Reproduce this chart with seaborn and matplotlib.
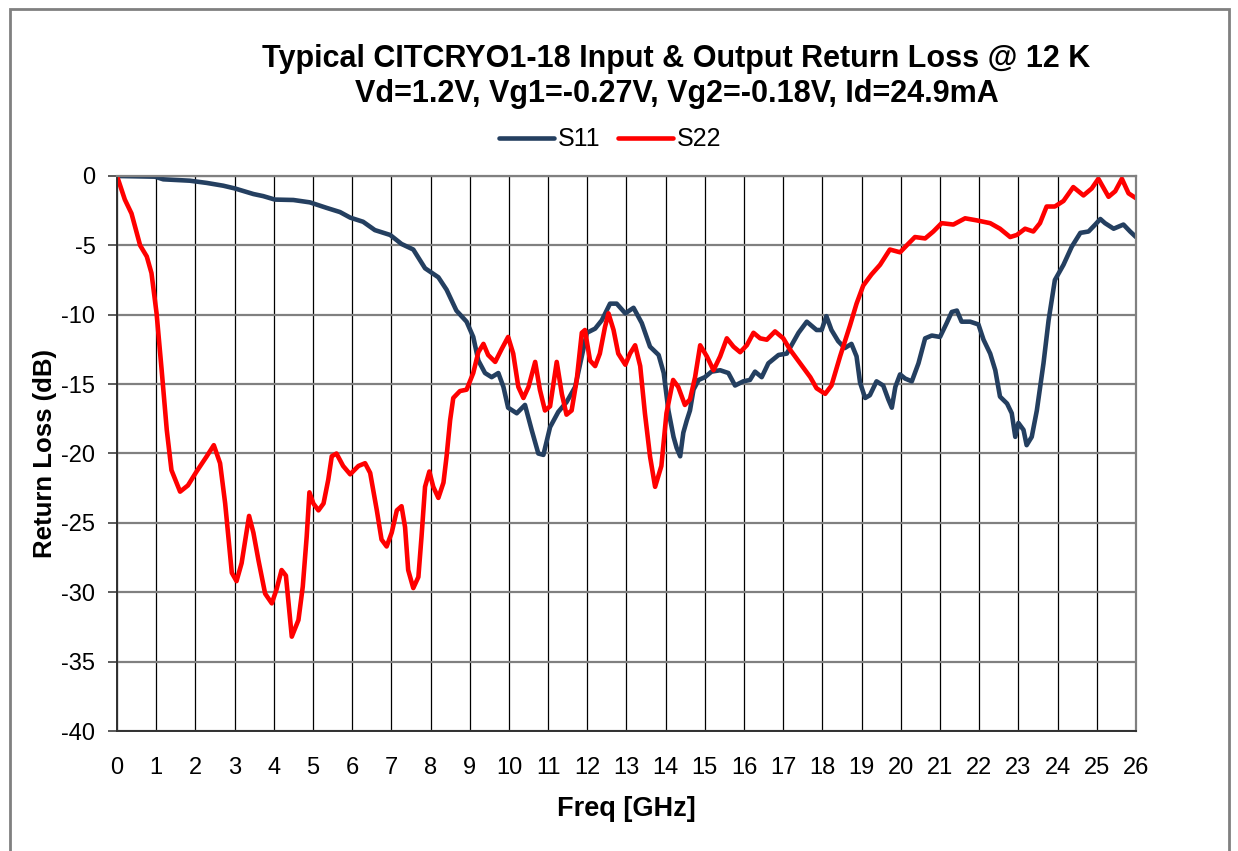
import numpy as np
import pandas as pd
import matplotlib.pyplot as plt
import seaborn as sns
from matplotlib.patches import Rectangle

# S11 readings (freq GHz, dB)
s11_freq = [0.0, 0.97, 1.18, 1.86, 2.29, 2.71, 3.01, 3.48, 3.73, 4.03, 4.5, 4.92, 5.35, 5.69,
            5.95, 6.28, 6.58, 6.97, 7.26, 7.56, 7.86, 8.2, 8.41, 8.66, 8.92, 9.09, 9.22, 9.39,
            9.56, 9.73, 9.86, 9.98, 10.2, 10.41, 10.58, 10.75, 10.88, 11.05, 11.26, 11.47,
            11.69, 11.86, 11.99, 12.2, 12.37, 12.58, 12.75, 12.97, 13.18, 13.39, 13.6, 13.82,
            13.95, 14.07, 14.2, 14.28, 14.37, 14.45, 14.54, 14.62, 14.71, 14.84, 15.0, 15.17,
            15.39, 15.6, 15.77, 15.98, 16.15, 16.28, 16.45, 16.62, 16.88, 17.09, 17.39, 17.6,
            17.85, 17.98, 18.1, 18.23, 18.4, 18.57, 18.74, 18.87, 18.96, 19.09, 19.21, 19.38,
            19.55, 19.68, 19.77, 19.86, 19.98, 20.11, 20.28, 20.45, 20.62, 20.79, 21.0, 21.17,
            21.3, 21.43, 21.55, 21.77, 21.98, 22.11, 22.28, 22.41, 22.53, 22.71, 22.83, 22.92,
            23.0, 23.13, 23.21, 23.34, 23.47, 23.64, 23.77, 23.93, 24.15, 24.36, 24.58, 24.79,
            24.96, 25.09, 25.21, 25.43, 25.68, 25.85, 26.0]
s11_db = [0.0, -0.05, -0.24, -0.34, -0.5, -0.7, -0.9, -1.3, -1.45, -1.7, -1.73, -1.9, -2.3, -2.6,
          -3.0, -3.3, -3.9, -4.25, -4.9, -5.3, -6.65, -7.3, -8.2, -9.7, -10.5, -11.6, -13.3, -14.2,
          -14.5, -14.2, -15.2, -16.7, -17.1, -16.5, -18.3, -20.0, -20.1, -18.1, -17.0, -16.3,
          -15.2, -13.0, -11.3, -11.0, -10.4, -9.2, -9.2, -9.9, -9.5, -10.6, -12.3, -12.9,
          -14.2, -16.9, -18.8, -19.6, -20.2, -18.5, -17.6, -16.9, -15.4, -14.7, -14.5, -14.1,
          -14.0, -14.2, -15.1, -14.8, -14.7, -14.1, -14.5, -13.5, -12.9, -12.8, -11.3, -10.5,
          -11.1, -11.1, -10.1, -11.1, -11.9, -12.4, -12.1, -13.0, -14.9, -16.0, -15.8, -14.8,
          -15.1, -16.1, -16.7, -15.2, -14.3, -14.6, -14.8, -13.5, -11.7, -11.5, -11.6, -10.6,
          -9.8, -9.7, -10.5, -10.5, -10.7, -11.8, -12.8, -14.0, -15.9, -16.4, -17.1, -18.8,
          -17.8, -18.3, -19.4, -18.8, -16.9, -13.5, -10.4, -7.5, -6.4, -5.1, -4.1, -4.0,
          -3.5, -3.1, -3.4, -3.8, -3.5, -4.0, -4.4]

# S22 readings (freq GHz, dB)
s22_freq = [0.0, 0.2, 0.37, 0.59, 0.76, 0.88, 1.01, 1.14, 1.27, 1.39, 1.61, 1.81, 2.03, 2.29,
            2.47, 2.63, 2.76, 2.93, 3.05, 3.18, 3.37, 3.48, 3.61, 3.78, 3.95, 4.07, 4.2, 4.31,
            4.46, 4.63, 4.74, 4.84, 4.91, 5.01, 5.14, 5.27, 5.39, 5.48, 5.6, 5.77, 5.95, 6.16,
            6.33, 6.46, 6.63, 6.75, 6.88, 7.01, 7.14, 7.26, 7.35, 7.43, 7.56, 7.69, 7.77, 7.86,
            7.97, 8.07, 8.2, 8.33, 8.41, 8.5, 8.58, 8.75, 8.92, 9.09, 9.22, 9.35, 9.47, 9.65,
            9.81, 9.98, 10.11, 10.24, 10.37, 10.5, 10.67, 10.79, 10.92, 11.05, 11.22, 11.35,
            11.47, 11.6, 11.73, 11.86, 11.94, 12.07, 12.2, 12.32, 12.45, 12.54, 12.67, 12.79,
            12.97, 13.09, 13.22, 13.35, 13.47, 13.6, 13.73, 13.89, 14.02, 14.19, 14.32, 14.49,
            14.62, 14.75, 14.88, 15.05, 15.22, 15.39, 15.56, 15.73, 15.9, 16.07, 16.24, 16.41,
            16.58, 16.79, 17.0, 17.17, 17.43, 17.69, 17.85, 18.07, 18.23, 18.45, 18.7, 18.87,
            19.04, 19.25, 19.47, 19.72, 19.98, 20.15, 20.36, 20.62, 20.83, 21.04, 21.34, 21.64,
            21.94, 22.28, 22.53, 22.79, 22.96, 23.17, 23.38, 23.55, 23.72, 23.93, 24.15, 24.4,
            24.66, 24.87, 25.04, 25.3, 25.47, 25.64, 25.81, 26.0]
s22_db = [0.0, -1.7, -2.7, -5.0, -5.8, -7.0, -9.9, -14.0, -18.3, -21.2, -22.75, -22.3, -21.3, -20.2,
          -19.4, -20.7, -23.6, -28.6, -29.2, -27.9, -24.5, -25.7, -27.7, -30.1, -30.8, -29.8, -28.4, -28.8,
          -33.2, -32.0, -29.6, -26.0, -22.8, -23.6, -24.1, -23.6, -21.9, -20.2, -20.0, -20.9, -21.5, -20.9,
          -20.7, -21.4, -24.1, -26.2, -26.7, -25.7, -24.1, -23.8, -25.3, -28.4, -29.7, -28.9, -26.0, -22.4,
          -21.3, -22.4, -23.2, -22.1, -20.2, -17.6, -16.0, -15.5, -15.4, -14.2, -12.7, -12.1, -12.9, -13.4,
          -12.5, -11.6, -12.8, -15.2, -16.0, -15.2, -13.4, -15.4, -16.9, -16.6, -13.4, -15.7,
          -17.2, -16.9, -14.7, -11.3, -11.1, -13.3, -13.7, -12.8, -10.9, -9.9, -11.1, -12.8,
          -13.6, -12.8, -12.2, -13.7, -17.1, -20.2, -22.4, -20.9, -17.1, -14.7, -15.2, -16.5,
          -16.1, -14.5, -12.2, -13.0, -14.0, -13.0, -11.7, -12.3, -12.7, -12.2, -11.3, -11.7,
          -11.8, -11.2, -11.7, -12.5, -13.5, -14.5, -15.3, -15.7, -15.1, -13.0, -10.8, -9.2,
          -7.9, -7.1, -6.4, -5.3, -5.5, -5.0, -4.4, -4.5, -4.0, -3.4, -3.5, -3.05,
          -3.2, -3.4, -3.8, -4.4, -4.25, -3.8, -4.0, -3.4, -2.2, -2.2, -1.8, -0.8,
          -1.4, -0.9, -0.2, -1.5, -1.1, -0.2, -1.25, -1.6]

title_1 = "Typical CITCRYO1-18 Input & Output Return Loss @ 12 K"
title_2 = "Vd=1.2V, Vg1=-0.27V, Vg2=-0.18V, Id=24.9mA"

df = pd.concat([
    pd.DataFrame({"Freq": s11_freq, "dB": s11_db, "trace": "S11"}),
    pd.DataFrame({"Freq": s22_freq, "dB": s22_db, "trace": "S22"}),
])

sns.set_style("white")
plt.rcParams['font.family'] = ['Liberation Sans', 'DejaVu Sans']
plt.rcParams['axes.unicode_minus'] = False
for k in ['text.color', 'axes.labelcolor', 'xtick.labelcolor', 'ytick.labelcolor']:
    plt.rcParams[k] = 'black'

fig = plt.figure(figsize=(12.38, 8.51), dpi=100)
ax = fig.add_axes([0.0945, 0.141, 0.8231, 0.6522])

sns.lineplot(data=df, x="Freq", y="dB", hue="trace", ax=ax, sort=False,
             palette={"S11": "#243F60", "S22": "#FF0000"}, linewidth=3.3, estimator=None)

ax.set_xlim(0, 26)
ax.set_ylim(-40, 0)
ax.set_xticks(range(0, 27))
ax.set_yticks(range(-40, 1, 5))
ax.tick_params(axis="x", labelsize=17, length=0, pad=19, labelcolor="black")
ax.tick_params(axis="y", labelsize=17, length=6.5, width=1.2, color="#404040",
               direction="out", left=True, pad=9, labelcolor="black")
ax.xaxis.grid(True, color="black", lw=0.9)
ax.yaxis.grid(True, color="#808080", lw=1.6)
for s in ["top", "right"]:
    ax.spines[s].set_color("#808080")
    ax.spines[s].set_linewidth(1.6)
for s in ["left", "bottom"]:
    ax.spines[s].set_color("#303030")
    ax.spines[s].set_linewidth(1.4)

ax.set_xlabel("Freq [GHz]", fontsize=19.5, fontweight="bold", labelpad=12, color="black")
ax.set_ylabel("Return Loss (dB)", fontsize=18.5, fontweight="bold", labelpad=3, color="black")

fig.text(0.5465, 0.931, title_1, ha="center", va="center", fontsize=22,
         fontweight="bold", color="black")
fig.text(0.5465, 0.889, title_2, ha="center", va="center", fontsize=22,
         fontweight="bold", color="black")

leg = ax.legend(title=None, loc="center", bbox_to_anchor=(0.484, 1.066), ncol=2, frameon=False,
                fontsize=18, handlelength=2.2, handletextpad=0.15, columnspacing=0.7)
for t in leg.get_texts():
    t.set_color("black")

fig.add_artist(Rectangle((0.008, -0.01), 0.985, 1.0, transform=fig.transFigure,
                         fill=False, edgecolor="#808080", lw=2))

fig.savefig("out.png", dpi=100)
